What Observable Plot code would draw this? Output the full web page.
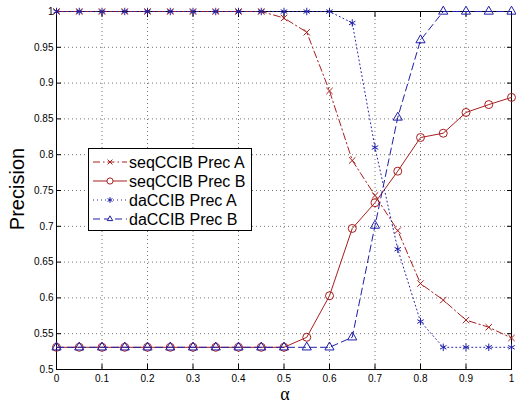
<!DOCTYPE html>
<html>
<head>
<meta charset="utf-8">
<script src="https://cdn.jsdelivr.net/npm/d3@7"></script>
<script src="https://cdn.jsdelivr.net/npm/@observablehq/plot@0.6"></script>
<style>
  html, body { margin: 0; padding: 0; background: #fff; }
  #chart { width: 516px; height: 408px; }
</style>
</head>
<body>
<div id="chart"></div>
<script>
// Threshold parameter α
const alpha = [0, 0.05, 0.1, 0.15, 0.2, 0.25, 0.3, 0.35, 0.4, 0.45, 0.5,
               0.55, 0.6, 0.65, 0.7, 0.75, 0.8, 0.85, 0.9, 0.95, 1];

// Precision per method and class
const seqPrecA = [1, 1, 1, 1, 1, 1, 1, 1, 1, 1, 0.991,
                  0.971, 0.889, 0.792, 0.743, 0.694, 0.620, 0.597, 0.569, 0.559, 0.544];
const seqPrecB = [0.531, 0.531, 0.531, 0.531, 0.531, 0.531, 0.531, 0.531, 0.531, 0.531, 0.531,
                  0.545, 0.603, 0.697, 0.733, 0.777, 0.824, 0.830, 0.859, 0.870, 0.880];
const daPrecA  = [1, 1, 1, 1, 1, 1, 1, 1, 1, 1, 1,
                  1, 1, 0.984, 0.810, 0.668, 0.567, 0.531, 0.531, 0.531, 0.531];
const daPrecB  = [0.531, 0.531, 0.531, 0.531, 0.531, 0.531, 0.531, 0.531, 0.531, 0.531, 0.531,
                  0.531, 0.531, 0.545, 0.701, 0.852, 0.960, 1, 1, 1, 1];

const seriesNames = ["seqCCIB Prec A", "seqCCIB Prec B", "daCCIB Prec A", "daCCIB Prec B"];

// Axis ticks
const xTicks = [0, 0.1, 0.2, 0.3, 0.4, 0.5, 0.6, 0.7, 0.8, 0.9, 1];
const yTicks = [0.5, 0.55, 0.6, 0.65, 0.7, 0.75, 0.8, 0.85, 0.9, 0.95, 1];
const yTickLabels = ["0.5", "0.55", "0.6", "0.65", "0.7", "0.75", "0.8", "0.85", "0.9", "0.95", "1"];

const RED = "#a81e1e";
const BLUE = "#1e1eaa";

const styles = [
  {values: seqPrecA, stroke: RED,  dash: "7,3,1.5,3", symbol: "times",    r: 3,   fill: "none"},
  {values: seqPrecB, stroke: RED,  dash: null,        symbol: "circle",   r: 4,   fill: "none"},
  {values: daPrecA,  stroke: BLUE, dash: "1,3",       symbol: "asterisk", r: 3.5, fill: "none"},
  {values: daPrecB,  stroke: BLUE, dash: "7,4",       symbol: "triangle", r: 3.4, fill: "none"}
];

const tables = styles.map((s, k) => alpha.map((a, i) => ({alpha: a, value: s.values[i], name: seriesNames[k]})));

const marks = [
  Plot.gridX(xTicks, {stroke: "#000", strokeOpacity: 0.55, strokeDasharray: "1,3"}),
  Plot.gridY(yTicks, {stroke: "#000", strokeOpacity: 0.55, strokeDasharray: "1,3"}),
  Plot.axisX(xTicks, {anchor: "bottom", tickSize: -5, tickPadding: 10, tickFormat: d => String(d), label: null}),
  Plot.axisX(xTicks, {anchor: "top", tickSize: -5, tickFormat: () => "", label: null}),
  Plot.axisY(yTicks, {anchor: "left", tickSize: -5, tickPadding: 8, tickFormat: d => yTickLabels[yTicks.indexOf(d)], label: null}),
  Plot.axisY(yTicks, {anchor: "right", tickSize: -5, tickFormat: () => "", label: null}),
  Plot.frame({stroke: "#000", strokeWidth: 1})
];

styles.forEach((s, k) => {
  marks.push(Plot.line(tables[k], {x: "alpha", y: "value", stroke: s.stroke, strokeWidth: 1, strokeDasharray: s.dash}));
  marks.push(Plot.dot(tables[k], {x: "alpha", y: "value", stroke: s.stroke, fill: s.fill, symbol: s.symbol, r: s.r, strokeWidth: 1}));
});

const chart = Plot.plot({
  width: 516,
  height: 408,
  marginLeft: 56,
  marginRight: 5,
  marginTop: 11,
  marginBottom: 39,
  style: {fontFamily: "'Liberation Sans', Arial, sans-serif", fontSize: "10px", background: "#fff", color: "#000"},
  x: {domain: [0, 1]},
  y: {domain: [0.5, 1]},
  marks
});

const svg = d3.select(chart);

// Axis titles
svg.append("text")
  .attr("transform", "translate(24,189) rotate(-90)")
  .attr("text-anchor", "middle")
  .attr("font-family", "'Liberation Sans', Arial, sans-serif")
  .attr("font-size", 20)
  .attr("fill", "#000")
  .text("Precision");

svg.append("text")
  .attr("x", 285)
  .attr("y", 400)
  .attr("text-anchor", "middle")
  .attr("font-family", "'Liberation Serif', 'Times New Roman', serif")
  .attr("font-size", 18)
  .attr("fill", "#000")
  .text("α");

// Legend box
const legend = svg.append("g");
legend.append("rect")
  .attr("x", 88.5).attr("y", 148.5)
  .attr("width", 163).attr("height", 82)
  .attr("fill", "#fff").attr("stroke", "#000").attr("stroke-width", 1);

const d3Symbols = {times: d3.symbolTimes, circle: d3.symbolCircle, asterisk: d3.symbolAsterisk, triangle: d3.symbolTriangle2};

styles.forEach((s, k) => {
  const cy = 162 + k * 19;
  const row = legend.append("g");
  row.append("line")
    .attr("x1", 93).attr("x2", 127).attr("y1", cy).attr("y2", cy)
    .attr("stroke", s.stroke).attr("stroke-width", 1)
    .attr("stroke-dasharray", s.dash);
  row.append("path")
    .attr("transform", `translate(110,${cy})`)
    .attr("d", d3.symbol(d3Symbols[s.symbol], Math.PI * s.r * s.r * 0.6)())
    .attr("fill", "#fff").attr("stroke", s.stroke).attr("stroke-width", 1);
  row.append("text")
    .attr("x", 129).attr("y", cy).attr("dy", "0.36em")
    .attr("text-anchor", "start")
    .attr("font-family", "'Liberation Sans', Arial, sans-serif")
    .attr("font-size", 16)
    .attr("fill", "#000")
    .text(seriesNames[k]);
});

document.getElementById("chart").appendChild(chart);
</script>
</body>
</html>
